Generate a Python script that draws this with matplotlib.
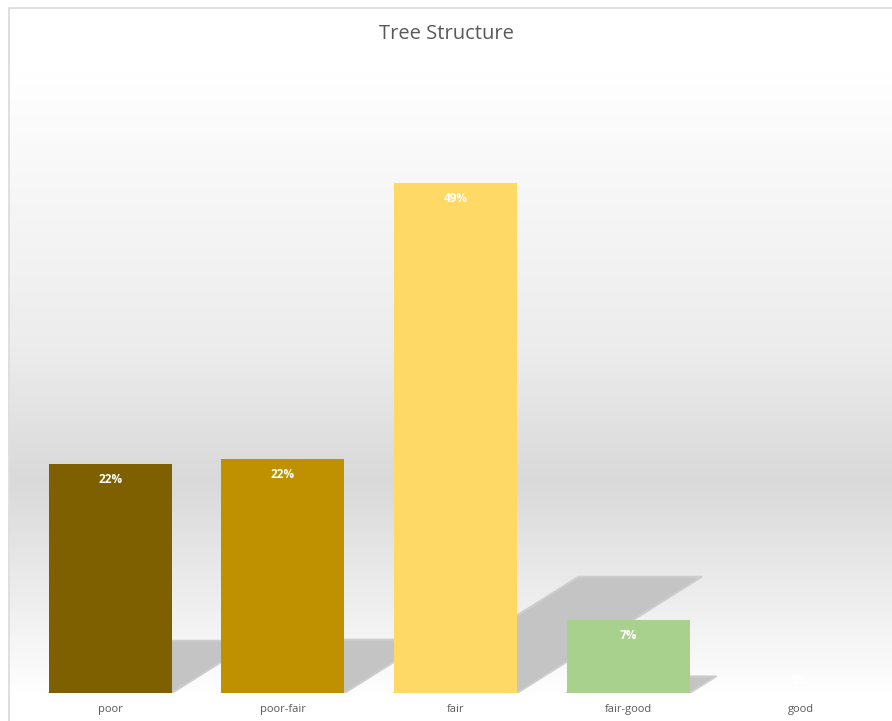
import numpy as np
import matplotlib
matplotlib.use("Agg")
import matplotlib.pyplot as plt
from matplotlib.colors import LinearSegmentedColormap
from matplotlib.patches import Polygon, Rectangle

categories = ["poor", "poor-fair", "fair", "fair-good", "good"]
values = [0.220, 0.225, 0.490, 0.070, 0.0]
labels = ["22%", "22%", "49%", "7%", "0%"]
colors = ["#7f6000", "#bf9000", "#ffd966", "#a9d18e", "#c5e0b4"]

plt.rcParams["font.family"] = ["Open Sans", "DejaVu Sans"]

fig = plt.figure(figsize=(8.92, 7.21), dpi=100)
fig.patch.set_facecolor("white")

# plot-area gradient spans the full chart width
bg = fig.add_axes([10 / 892, 28 / 721, 882 / 892, 624 / 721], zorder=0)
cmap = LinearSegmentedColormap.from_list(
    "bg", [(0.0, "#fefefe"), (0.34, "#d9d9d9"), (0.55, "#ececec"), (1.0, "#ffffff")])
grad = np.linspace(0, 1, 512).reshape(-1, 1)
bg.imshow(grad, cmap=cmap, origin="lower", aspect="auto", extent=[0, 1, 0, 1],
          interpolation="bilinear")
bg.set_axis_off()

# chart border (only top and left visible, rest is cropped)
fig.patches.append(Rectangle((9 / 892, -0.1), 1.2, (713 / 721) + 0.1,
                             transform=fig.transFigure, fill=False,
                             edgecolor="#d9d9d9", linewidth=1.2, zorder=5))

ax = fig.add_axes([24 / 892, 28 / 721, 863 / 892, 624 / 721], zorder=1)
ymax = 0.6
ax.set_xlim(-0.5, len(categories) - 0.5)
ax.set_ylim(0, ymax)
ax.patch.set_alpha(0)

x = np.arange(len(categories))
width = 0.713

# perspective shadows
for xi, v in zip(x, values):
    if v <= 0:
        continue
    h = 0.228 * v
    dx = 9.57 * h
    x0, x1 = xi - width / 2, xi + width / 2
    poly = Polygon([(x0, 0), (x1, 0), (x1 + dx, h), (x0 + dx, h)],
                   closed=True, facecolor="#c4c4c4", edgecolor="#cdcdcd",
                   linewidth=1.5, joinstyle="round", zorder=1)
    ax.add_patch(poly)

bars = ax.bar(x, values, width=width, color=colors, zorder=2)

for xi, v, lab in zip(x, values, labels):
    off = -11 if v > 0 else 9
    ax.annotate(lab, (xi, v), xytext=(0, off), textcoords="offset points",
                ha="center", va="center", color="white", fontsize=8.5,
                fontweight="bold", zorder=3)

ax.set_xticks(x)
ax.set_xticklabels(categories, fontsize=8, color="#595959")
ax.tick_params(axis="x", length=0, pad=8)
ax.set_yticks([])
for s in ax.spines.values():
    s.set_visible(False)

fig.text(0.5, 1 - 34 / 721, "Tree Structure", ha="center", va="center",
         fontsize=14.5, color="#595959")

fig.savefig("out.png", dpi=100)
